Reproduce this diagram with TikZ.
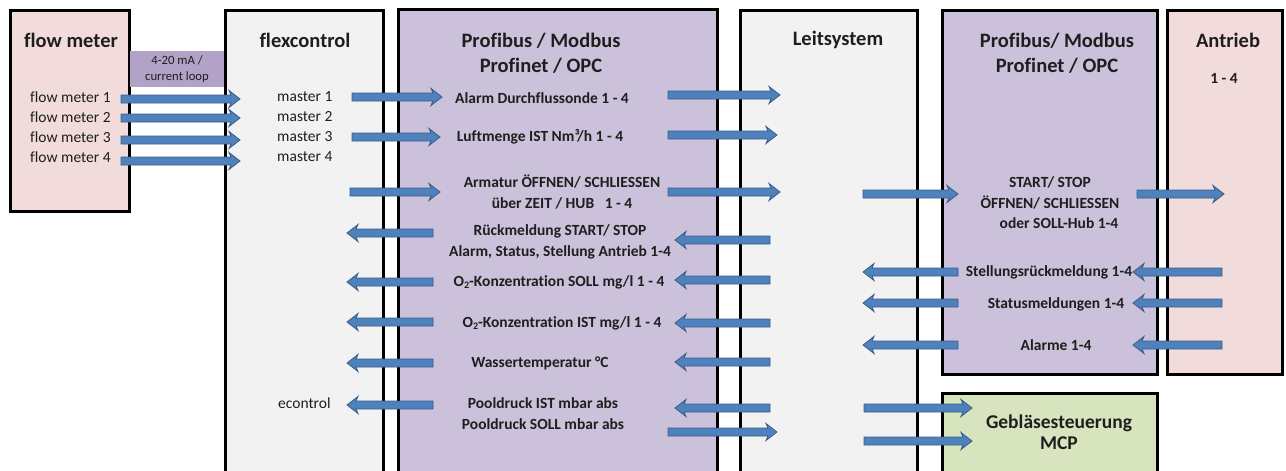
\documentclass[tikz,border=0pt]{standalone}
\usepackage{fontspec}
\setmainfont{Carlito}[Ligatures=NoCommon]
\usetikzlibrary{calc}

\definecolor{meterfill}{HTML}{F2DCDB}
\definecolor{busfill}{HTML}{CCC1DA}
\definecolor{loopfill}{HTML}{B3A2C7}
\definecolor{ctrlfill}{HTML}{F2F2F2}
\definecolor{blowfill}{HTML}{D7E4BD}
\definecolor{arrowfill}{HTML}{4F81BD}
\definecolor{arrowline}{HTML}{385D8A}
\definecolor{ink}{HTML}{1E1E1E}

% O with subscript 2
\newcommand\otwo{O\raisebox{-0.3ex}{\fontsize{10}{10}\selectfont 2}}

% thick block arrow from #1 to #2 (tip at #2)
\newcommand\blockarrow[2]{%
  \coordinate (ba-s) at #1;
  \coordinate (ba-e) at #2;
  \coordinate (ba-h) at ($(ba-e)!9pt!(ba-s)$);
  \coordinate (ba-b) at ($(ba-e)!11pt!(ba-s)$);
  \filldraw[blockarrow]
    ($(ba-s)!4pt!90:(ba-e)$) -- ($(ba-h)!4pt!90:(ba-e)$) --
    ($(ba-b)!8.5pt!90:(ba-e)$) -- (ba-e) --
    ($(ba-b)!8.5pt!-90:(ba-e)$) -- ($(ba-h)!4pt!-90:(ba-e)$) --
    ($(ba-s)!4pt!-90:(ba-e)$) -- cycle;
}

\begin{document}
\begin{tikzpicture}[x=1pt, y=-1pt,
  text=ink,
  box/.style={draw=black, line width=3pt},
  boxtitle/.style={font=\fontsize{20.5}{25}\selectfont\bfseries, align=center, inner sep=0pt},
  busitem/.style={font=\fontsize{15.5}{20.5}\selectfont\bfseries, align=center, inner sep=0pt},
  sigtext/.style={font=\fontsize{15.5}{20}\selectfont, anchor=west, inner sep=0pt},
  blockarrow/.style={fill=arrowfill, draw=arrowline, line width=0.8pt, line join=miter}]

\fill[white] (0,0) rectangle (1286,471);
\clip (0,0) rectangle (1286,471);

% ---- boxes ----
\filldraw[box, fill=meterfill] (10,10) rectangle (129,211);
\fill[loopfill] (130,51) rectangle (224,87);
\filldraw[box, fill=ctrlfill] (225,10) rectangle (383,495);
\filldraw[box, fill=busfill] (398,9) rectangle (717,495);
\filldraw[box, fill=ctrlfill] (740,10) rectangle (917,495);
\filldraw[box, fill=busfill] (942,10) rectangle (1157,374);
\filldraw[box, fill=meterfill] (1167,10) rectangle (1282,374);
\filldraw[box, fill=blowfill] (942,393) rectangle (1157,495);

% ---- titles ----
\node[boxtitle] (fmT) at (71,40) {flow meter};
\node[boxtitle] (fcT) at (305,40) {flexcontrol};
\node[boxtitle] (pbT) at (541,53.5) {Profibus / Modbus\\Profinet / OPC};
\node[boxtitle] (lsT) at (838,40) {Leitsystem};
\node[boxtitle] (pb2T) at (1057,53.5) {Profibus/ Modbus\\Profinet / OPC};
\node[boxtitle] (anT) at (1228,40) {Antrieb};
\node[busitem] (anN) at (1224,78) {1 - 4};
\node[font=\fontsize{19.5}{20.5}\selectfont\bfseries, align=center, inner sep=0pt] (mcp) at (1059,432) {Gebläsesteuerung\\MCP};
\node[font=\fontsize{12.7}{15.5}\selectfont, align=center, inner sep=0pt] (loop) at (177,69) {4-20 mA /\\current loop};

% ---- flow meter and master signals ----
\node[sigtext] (fm1) at (30,97) {flow meter 1};
\node[sigtext] (fm2) at (30,117) {flow meter 2};
\node[sigtext] (fm3) at (30,137) {flow meter 3};
\node[sigtext] (fm4) at (30,157) {flow meter 4};
\node[sigtext] (ms1) at (277,97) {master 1};
\node[sigtext] (ms2) at (277,117) {master 2};
\node[sigtext] (ms3) at (277,137) {master 3};
\node[sigtext] (ms4) at (277,157) {master 4};
\node[sigtext] (ec) at (278,403) {econtrol};

% ---- bus items, left bus ----
\node[busitem] (i1) at (542,98) {Alarm Durchflussonde 1 - 4};
\node[busitem] (i2) at (540,137) {Luftmenge IST Nm³/h 1 - 4};
\node[busitem] (i3) at (562,192) {Armatur ÖFFNEN/ SCHLIESSEN\\über ZEIT / HUB \ \ 1 - 4};
\node[busitem] (i4) at (560,242) {Rückmeldung START/ STOP\\Alarm, Status, Stellung Antrieb 1-4};
\node[busitem] (i5) at (559,282) {\otwo-Konzentration SOLL mg/l 1 - 4};
\node[busitem] (i6) at (562,323) {\otwo-Konzentration IST mg/l 1 - 4};
\node[busitem] (i7) at (540,363) {Wassertemperatur °C};
\node[busitem] (i8) at (543,413.5) {Pooldruck IST mbar abs\\Pooldruck SOLL mbar abs};

% ---- bus items, right bus ----
\node[busitem] (j1) at (1050,203) {START/ STOP\\ÖFFNEN/ SCHLIESSEN\\\hspace*{18pt}oder SOLL-Hub 1-4};
\node[busitem] (j2) at (1049,272) {Stellungsrückmeldung 1-4};
\node[busitem] (j3) at (1056,304) {Statusmeldungen 1-4};
\node[busitem] (j4) at (1056,345) {Alarme 1-4};

% ---- arrows: flow meter -> flexcontrol ----
\blockarrow{(121,99)}{(240,99)}
\blockarrow{(121,118)}{(240,118)}
\blockarrow{(121,140)}{(240,140)}
\blockarrow{(121,161)}{(240,161)}

% ---- arrows: flexcontrol <-> bus ----
\blockarrow{(352,97)}{(442,97)}
\blockarrow{(352,137)}{(440,137)}
\blockarrow{(350,192)}{(440,192)}
\blockarrow{(433,233)}{(347,233)}
\blockarrow{(433,282)}{(347,282)}
\blockarrow{(433,322)}{(347,322)}
\blockarrow{(433,363)}{(347,363)}
\blockarrow{(433,405)}{(347,405)}

% ---- arrows: bus <-> Leitsystem ----
\blockarrow{(668,95)}{(780,95)}
\blockarrow{(668,135)}{(777,135)}
\blockarrow{(668,192)}{(780,192)}
\blockarrow{(770,240)}{(675,240)}
\blockarrow{(770,280)}{(675,280)}
\blockarrow{(770,323)}{(675,323)}
\blockarrow{(770,362)}{(675,362)}
\blockarrow{(770,408)}{(675,408)}
\blockarrow{(668,432)}{(777,432)}

% ---- arrows: Leitsystem <-> right bus <-> Antrieb ----
\blockarrow{(863,194)}{(958,194)}
\blockarrow{(1137,194)}{(1224,194)}
\blockarrow{(958,272)}{(863,272)}
\blockarrow{(958,303)}{(863,303)}
\blockarrow{(958,345)}{(863,345)}
\blockarrow{(1222,272)}{(1133,272)}
\blockarrow{(1222,303)}{(1133,303)}
\blockarrow{(1222,345)}{(1133,345)}

% ---- arrows: Leitsystem -> Gebläsesteuerung ----
\blockarrow{(864,408)}{(972,408)}
\blockarrow{(864,441)}{(972,441)}

\end{tikzpicture}
\end{document}
